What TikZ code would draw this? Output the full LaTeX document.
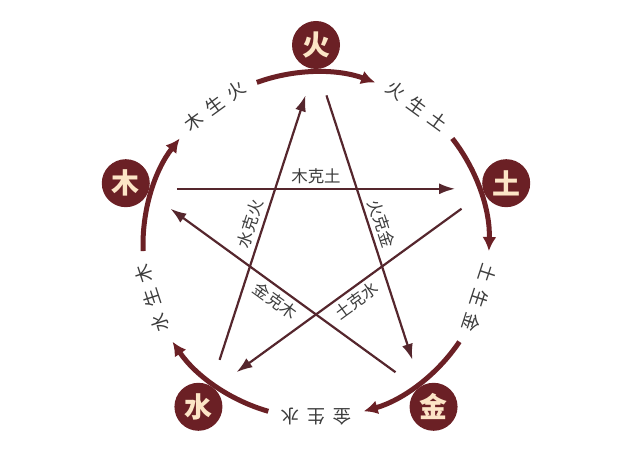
\documentclass[tikz,border=0pt]{standalone}
\usepackage{fontspec}
\newfontfamily\cjk{Noto Sans CJK SC}
\usepackage{xcolor}
\usetikzlibrary{arrows.meta}
\definecolor{wxred}{HTML}{6B2025}
\definecolor{wxline}{HTML}{55262D}
\definecolor{wxcream}{HTML}{FCE5C6}
\definecolor{wxtext}{HTML}{3C3C3C}
\newcommand{\spaced}[3]{#1\hskip.4em#2\hskip.4em#3}

\begin{document}
\begin{tikzpicture}[x=1bp, y=1bp,
    elem/.style={circle, fill=wxred, minimum size=48bp, inner sep=0pt, text=wxcream, font=\cjk\bfseries\fontsize{28}{28}\selectfont},
    sheng/.style={wxred, line width=5bp, -{Latex[length=14bp,width=14bp]}},
    shenglab/.style={text=wxtext, font=\cjk\fontsize{18.5}{18.5}\selectfont},
    ke/.style={wxline, line width=2.2bp, -{Latex[length=16bp,width=11bp]}},
    kelab/.style={text=wxtext, font=\cjk\fontsize{16.5}{16.5}\selectfont, inner sep=4bp}]
    \useasboundingbox (-316,-224) rectangle (316,245);
    % elements and the arcs through them
    \foreach \a/\n/\t in {90/huo/火, 18/tu/土, -54/jin/金, 234/shui/水, 162/mu/木} {
        \node[elem] (\n) at (\a:200) {\t};
        \coordinate (\n-out) at (\a-4:150);
        \coordinate (\n-in) at (\a+4:150);
        \draw[sheng] (\a+20:173) arc[start angle=\a+20, end angle=\a-20, radius=173];
    }
    % sheng labels
    \foreach \a/\n/\x/\y/\z in {126/a/木/生/火, 54/b/火/生/土, -18/c/土/生/金, -90/d/金/生/水, 198/e/水/生/木}
        \node[shenglab, rotate=\a-90] (sheng-\n) at (\a:172) {\spaced{\x}{\y}{\z}};
    % ke lines
    \draw[ke] (mu-out) -- node[kelab, above] (ke-mu) {木克土} (tu-in);
    \draw[ke] (huo-out) -- node[kelab, sloped, above] (ke-huo) {火克金} (jin-in);
    \draw[ke] (tu-out) -- node[kelab, sloped, below] (ke-tu) {土克水} (shui-in);
    \draw[ke] (jin-out) -- node[kelab, sloped, below] (ke-jin) {金克木} (mu-in);
    \draw[ke] (shui-out) -- node[kelab, sloped, above] (ke-shui) {水克火} (huo-in);
\end{tikzpicture}
\end{document}
